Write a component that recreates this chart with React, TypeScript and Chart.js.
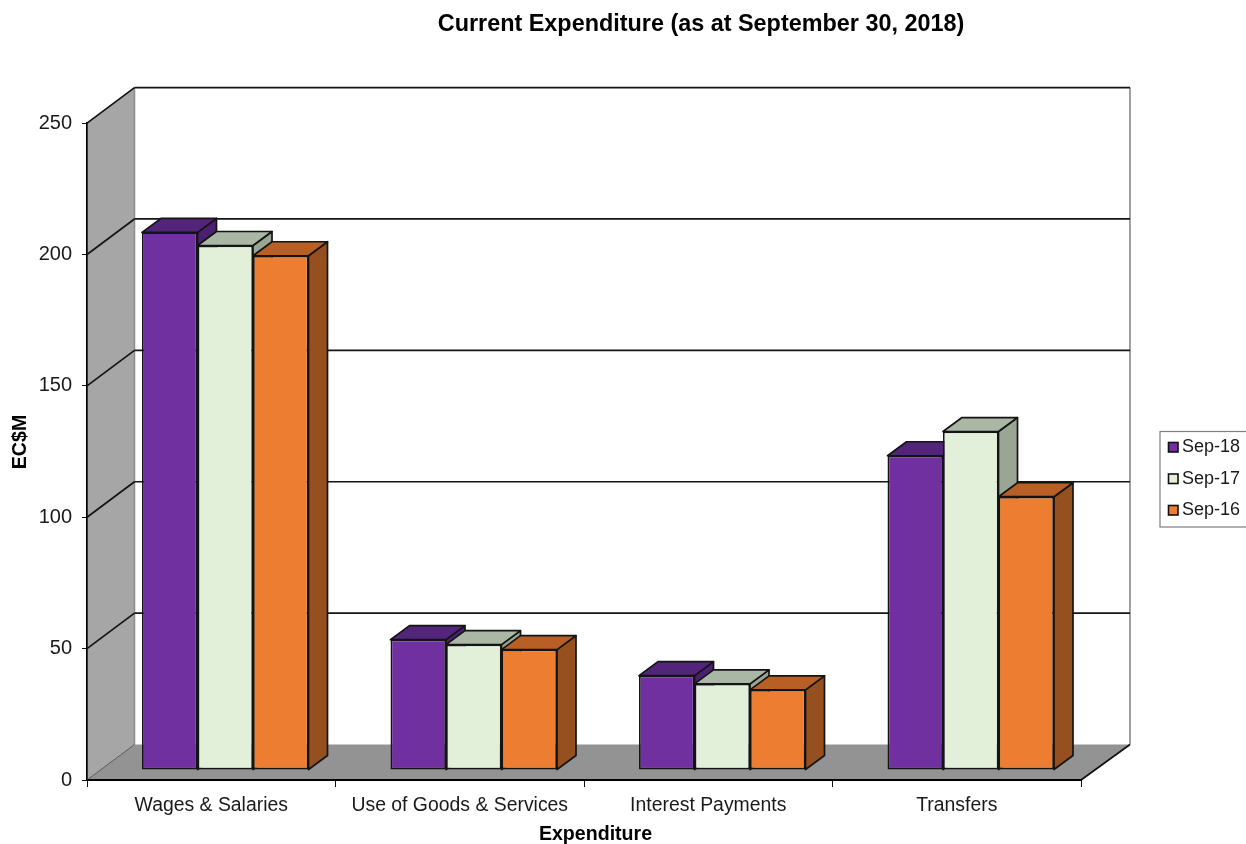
import React, { useEffect, useRef } from "react";
import { Chart, registerables } from "chart.js";

Chart.register(...registerables);

const FONT = "'Liberation Sans', Arial, sans-serif";

const categories = ["Wages & Salaries", "Use of Goods & Services", "Interest Payments", "Transfers"];
const sep18 = [204.6, 49.6, 35.9, 119.6];
const sep17 = [199.6, 47.7, 32.8, 128.8];
const sep16 = [195.7, 45.8, 30.5, 104.0];
const seriesNames = ["Sep-18", "Sep-17", "Sep-16"];
const frontColors = ["#7030A0", "#E3F0D9", "#ED7D31"];
const topColors = ["#52247A", "#AAB7A4", "#B75F24"];
const sideColors = ["#4B2070", "#9AA593", "#96501F"];
const xAxisTitle = "Expenditure";
const yAxisTitle = "EC$M";

const LINE = "#141414";
const TEXT = "#1a1a1a";
const WALL_DX = 47.5;
const WALL_DY = 35.5;
const BAR_DX = 14;
const BAR_DY = 10;
const DEPTH_DX = 19;
const DEPTH_DY = 14;

function poly(ctx: CanvasRenderingContext2D, pts: number[][], fill: string | null, stroke: string | null, w = 1.7) {
  ctx.beginPath();
  pts.forEach((p, i) => (i ? ctx.lineTo(p[0], p[1]) : ctx.moveTo(p[0], p[1])));
  ctx.closePath();
  if (fill) {
    ctx.fillStyle = fill;
    ctx.fill();
  }
  if (stroke) {
    ctx.strokeStyle = stroke;
    ctx.lineWidth = w;
    ctx.lineJoin = "round";
    ctx.stroke();
  }
}

function seg(ctx: CanvasRenderingContext2D, x1: number, y1: number, x2: number, y2: number, color: string, w: number) {
  ctx.beginPath();
  ctx.moveTo(x1, y1);
  ctx.lineTo(x2, y2);
  ctx.strokeStyle = color;
  ctx.lineWidth = w;
  ctx.stroke();
}

const depthPlugin = {
  id: "depth3d",
  afterLayout(chart: any) {
    const t = chart.titleBlock;
    if (t) {
      t.left = 156;
      t.right = 1246;
    }
  },
  beforeDraw(chart: any) {
    const { ctx, chartArea: a, scales } = chart;
    const y = scales.y;
    ctx.save();
    ctx.fillStyle = "#fff";
    ctx.fillRect(0, 0, chart.width, chart.height);
    const bl = a.left + WALL_DX;
    const br = a.right + WALL_DX + 1.5;
    poly(ctx, [[a.left, a.top], [bl, a.top - WALL_DY], [bl, a.bottom - WALL_DY], [a.left, a.bottom]], "#A6A6A6", null);
    poly(ctx, [[a.left, a.bottom], [bl, a.bottom - WALL_DY], [br, a.bottom - WALL_DY], [a.right, a.bottom]], "#939393", null);
    seg(ctx, bl, a.top - WALL_DY, bl, a.bottom - WALL_DY, "#8c8c8c", 1.5);
    seg(ctx, br, a.top - WALL_DY, br, a.bottom - WALL_DY, "#a0a0a0", 2);
    seg(ctx, a.left, a.bottom, bl, a.bottom - WALL_DY, "#5a5a5a", 1);
    seg(ctx, a.right, a.bottom, br, a.bottom - WALL_DY, "#111", 1.7);
    for (const tick of y.ticks) {
      if (tick.value === 0) continue;
      const py = y.getPixelForValue(tick.value);
      seg(ctx, a.left, py, bl, py - WALL_DY, LINE, 1.7);
      seg(ctx, bl, py - WALL_DY, br, py - WALL_DY, LINE, 1.7);
    }
    // legend
    const lx = 1160;
    ctx.strokeStyle = "#7f7f7f";
    ctx.lineWidth = 1.2;
    ctx.strokeRect(lx, 431.5, 100, 95.5);
    ctx.font = `18px ${FONT}`;
    ctx.textAlign = "left";
    ctx.textBaseline = "middle";
    chart.data.datasets.forEach((d: any, i: number) => {
      const ly = 447 + i * 31.5;
      ctx.fillStyle = d.backgroundColor;
      ctx.fillRect(lx + 8.5, ly - 4.5, 9.5, 9.5);
      ctx.strokeStyle = "#111";
      ctx.lineWidth = 1.6;
      ctx.strokeRect(lx + 8.5, ly - 4.5, 9.5, 9.5);
      ctx.fillStyle = TEXT;
      ctx.fillText(d.label, lx + 22, ly + 0.5);
    });
    // axis titles
    ctx.font = `bold 19.6px ${FONT}`;
    ctx.textAlign = "center";
    ctx.fillStyle = "#000";
    ctx.fillText(xAxisTitle, 595.5, 834.5);
    ctx.save();
    ctx.translate(21, 442);
    ctx.rotate(-Math.PI / 2);
    ctx.fillText(yAxisTitle, 0, 0);
    ctx.restore();
    ctx.restore();
  },
  beforeDatasetsDraw(chart: any) {
    const { ctx } = chart;
    ctx.save();
    ctx.translate(BAR_DX, -BAR_DY);
    chart.data.datasets.forEach((_: any, di: number) => {
      chart.getDatasetMeta(di).data.forEach((b: any) => {
        const h = b.width / 2;
        const l = b.x - h;
        const r = b.x + h;
        poly(ctx, [[r, b.y], [r + DEPTH_DX, b.y - DEPTH_DY], [r + DEPTH_DX, b.base - DEPTH_DY], [r, b.base]], sideColors[di], LINE);
        poly(ctx, [[l, b.y], [l + DEPTH_DX, b.y - DEPTH_DY], [r + DEPTH_DX, b.y - DEPTH_DY], [r, b.y]], topColors[di], LINE);
      });
    });
  },
  afterDatasetsDraw(chart: any) {
    chart.ctx.restore();
  },
};

export default function App() {
  const ref = useRef<HTMLCanvasElement>(null);
  useEffect(() => {
    document.body.style.margin = "0";
    const values = [sep18, sep17, sep16];
    const chart = new Chart(ref.current as HTMLCanvasElement, {
      type: "bar",
      data: {
        labels: categories,
        datasets: seriesNames.map((label, i) => ({
          label,
          data: values[i],
          backgroundColor: frontColors[i],
          borderColor: LINE,
          borderWidth: 1.7,
          borderSkipped: false,
          categoryPercentage: 0.67,
          barPercentage: 1,
        })),
      },
      options: {
        responsive: false,
        animation: false,
        layout: { padding: { left: 0, right: 165, top: 0, bottom: 0 } },
        plugins: {
          legend: { display: false },
          tooltip: { enabled: false },
          title: {
            display: true,
            text: "Current Expenditure (as at September 30, 2018)",
            color: "#000",
            font: { family: FONT, size: 23.4, weight: "bold" },
            padding: { top: 11, bottom: 84 },
          },
        },
        scales: {
          x: {
            afterFit: (s: any) => {
              s.height = 64;
            },
            grid: { drawOnChartArea: false, tickLength: 7, color: "#111", lineWidth: 1 },
            border: { color: "#000", width: 2 },
            ticks: { color: TEXT, padding: 7, maxRotation: 0, font: { family: FONT, size: 19.4 } },
          },
          y: {
            min: 0,
            max: 250,
            afterFit: (s: any) => {
              s.width = 87;
            },
            grid: { drawOnChartArea: false, tickLength: 5, color: "#111", lineWidth: 1 },
            border: { color: "#000", width: 1.7 },
            ticks: { stepSize: 50, color: TEXT, padding: 10, font: { family: FONT, size: 20 } },
          },
        },
      },
      plugins: [depthPlugin],
    } as any);
    return () => chart.destroy();
  }, []);
  return <canvas ref={ref} width={1246} height={844} style={{ display: "block", width: 1246, height: 844 }} />;
}
